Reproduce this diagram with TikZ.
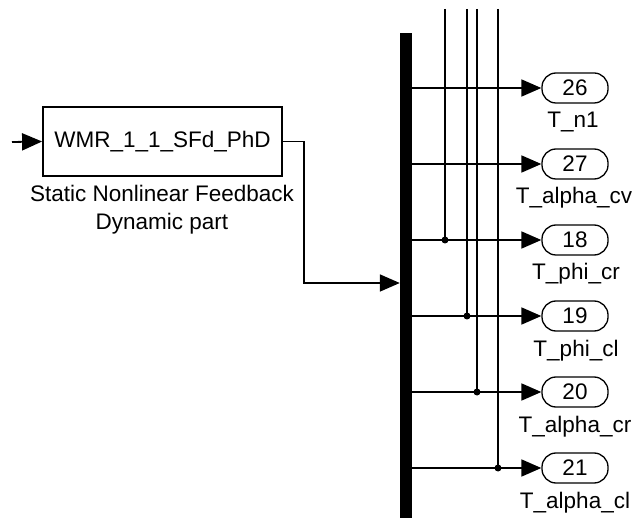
\documentclass[tikz,border=0pt]{standalone}
\usepackage{fontspec}
\setmainfont{Liberation Sans}
\usetikzlibrary{arrows.meta, positioning, calc}

\begin{document}
\begin{tikzpicture}[
    x=1pt, y=-1pt,
    every node/.style={font=\fontsize{22.5}{28}\selectfont},
    box/.style={draw, line width=1.8pt, minimum width=239pt, minimum height=69pt, inner sep=0pt},
    port/.style={draw, line width=1.3pt, rounded corners=14pt, minimum width=66pt, minimum height=30pt, inner sep=0pt},
    bar/.style={fill=black, minimum width=12pt, minimum height=485pt, inner sep=0pt},
    sig/.style={line width=1.8pt},
    arrow/.style={sig, -{Triangle[length=20pt, width=17pt]}},
    dot/.style={circle, fill=black, inner sep=0pt, minimum size=7pt}
]
    \useasboundingbox (0,0) rectangle (637,518);

    % Subsystem block
    \node[box] (blk) at (162.5,141.5) {WMR\_1\_1\_SFd\_PhD};
    \node[align=center, anchor=base] (blkname) at (162,230) {Static Nonlinear Feedback\\Dynamic part};
    \coordinate (in) at (12,142);

    % Demux bar
    \node[bar] (mux) at (406,275.5) {};
    \coordinate (muxin) at (mux.west |- 0,283);

    % Output ports
    \node[port] (p26) at (575,88) {26};
    \node[port] (p27) at (575,164) {27};
    \node[port] (p18) at (575,240) {18};
    \node[port] (p19) at (575,316) {19};
    \node[port] (p20) at (575,392) {20};
    \node[port] (p21) at (575,468) {21};

    \node[anchor=base] (n26) at (573,128) {T\_n1};
    \node[anchor=base] (n27) at (574,204) {T\_alpha\_cv};
    \node[anchor=base] (n18) at (576,280) {T\_phi\_cr};
    \node[anchor=base] (n19) at (576,356) {T\_phi\_cl};
    \node[anchor=base] (n20) at (575,432) {T\_alpha\_cr};
    \node[anchor=base] (n21) at (575,508) {T\_alpha\_cl};

    % Tap lines from above
    \coordinate (t1) at (445,9);
    \coordinate (t2) at (467,9);
    \coordinate (t3) at (477,9);
    \coordinate (t4) at (498,9);

    % Arrows
    \draw[arrow] (in) -- (blk.west);
    \draw[arrow] (blk.east) -- ++(21,0) |- (muxin);

    \draw[arrow] (mux.east |- p26) -- (p26.west);
    \draw[arrow] (mux.east |- p27) -- (p27.west);
    \draw[arrow] (mux.east |- p18) -- (p18.west);
    \draw[arrow] (mux.east |- p19) -- (p19.west);
    \draw[arrow] (mux.east |- p20) -- (p20.west);
    \draw[arrow] (mux.east |- p21) -- (p21.west);

    \draw[sig] (t1) -- (t1 |- p18) node[dot] {};
    \draw[sig] (t2) -- (t2 |- p19) node[dot] {};
    \draw[sig] (t3) -- (t3 |- p20) node[dot] {};
    \draw[sig] (t4) -- (t4 |- p21) node[dot] {};
\end{tikzpicture}
\end{document}
